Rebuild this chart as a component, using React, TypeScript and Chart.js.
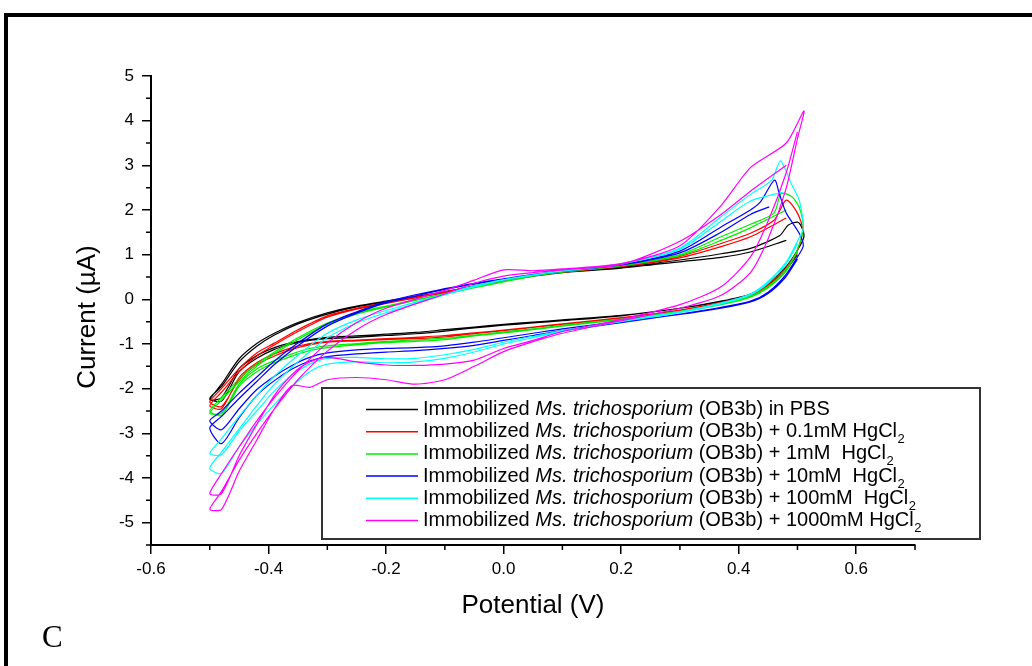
import React, { useEffect, useRef } from "react";
import { Chart, registerables } from "chart.js";

Chart.register(...registerables);

// ---------- data (potential in V, current in µA) ----------
const scanUp = [-0.5, -0.48, -0.45, -0.42, -0.39, -0.35, -0.3, -0.25, -0.2, -0.1, -0.05, 0.0, 0.05, 0.1, 0.2, 0.3, 0.37, 0.42];
const scanDown = [0.5, 0.48, 0.45, 0.42, 0.37, 0.3, 0.2, 0.1, 0.05, 0.0, -0.05, -0.1, -0.15, -0.2, -0.25, -0.3, -0.33, -0.36, -0.39, -0.42, -0.45, -0.48];

const seriesLabels = [
  ["Immobilized ", "Ms. trichosporium", " (OB3b) in PBS", ""],
  ["Immobilized ", "Ms. trichosporium", " (OB3b) + 0.1mM HgCl", "2"],
  ["Immobilized ", "Ms. trichosporium", " (OB3b) + 1mM  HgCl", "2"],
  ["Immobilized ", "Ms. trichosporium", " (OB3b) + 10mM  HgCl", "2"],
  ["Immobilized ", "Ms. trichosporium", " (OB3b) + 100mM  HgCl", "2"],
  ["Immobilized ", "Ms. trichosporium", " (OB3b) + 1000mM HgCl", "2"],
];
const seriesColors = ["#000000", "#ff0000", "#00ee00", "#0000ff", "#00ffff", "#ff00ff"];

// black: PBS
const blackDownA = [1.0, 0.65, 0.32, 0.1, -0.05, -0.2, -0.36, -0.46, -0.51, -0.56, -0.62, -0.68, -0.74, -0.78, -0.82, -0.85, -0.9, -0.97, -1.08, -1.26, -1.55, -2.2];
const blackUpA = [-2.25, -1.9, -1.33, -0.99, -0.76, -0.52, -0.3, -0.15, -0.04, 0.17, 0.3, 0.43, 0.54, 0.62, 0.72, 0.88, 1.02, 1.14];
const blackPeakV = [0.47, 0.484, 0.5, 0.507, 0.511];
const blackPeakI = [1.43, 1.66, 1.73, 1.62, 1.4];
const blackDownB = [1.1, 0.72, 0.36, 0.12, -0.04, -0.2, -0.37, -0.48, -0.53, -0.58, -0.64, -0.71, -0.77, -0.81, -0.85, -0.88, -0.92, -1.0, -1.12, -1.32, -1.62, -2.28];
const blackUpB = [-2.22, -1.95, -1.4, -1.05, -0.8, -0.55, -0.33, -0.17, -0.06, 0.15, 0.28, 0.41, 0.52, 0.6, 0.7, 0.84, 0.94, 1.06];
const blackEnd = [0.481, 1.32];

// red: 0.1 mM
const redDownA = [1.05, 0.65, 0.3, 0.08, -0.08, -0.25, -0.42, -0.56, -0.63, -0.7, -0.77, -0.84, -0.88, -0.9, -0.93, -0.96, -1.02, -1.12, -1.27, -1.46, -1.8, -2.4];
const redUpA = [-2.3, -2.0, -1.55, -1.2, -0.98, -0.68, -0.37, -0.2, -0.07, 0.17, 0.29, 0.42, 0.54, 0.62, 0.74, 0.96, 1.25, 1.48];
const redPeakV = [0.46, 0.481, 0.5, 0.509];
const redPeakI = [1.77, 2.22, 1.93, 1.55];
const redDownB = [1.1, 0.7, 0.33, 0.1, -0.07, -0.24, -0.41, -0.55, -0.62, -0.69, -0.75, -0.81, -0.85, -0.88, -0.91, -0.94, -0.99, -1.08, -1.22, -1.42, -1.75, -2.45];
const redUpB = [-2.38, -2.08, -1.62, -1.27, -1.02, -0.72, -0.4, -0.22, -0.09, 0.15, 0.28, 0.41, 0.53, 0.61, 0.73, 0.93, 1.18, 1.4];
const redEnd = [0.481, 1.82];

// green: 1 mM
const greenDownA = [1.08, 0.62, 0.26, 0.05, -0.12, -0.28, -0.45, -0.6, -0.68, -0.75, -0.82, -0.9, -0.94, -0.97, -1.02, -1.08, -1.15, -1.27, -1.42, -1.62, -1.95, -2.6];
const greenUpA = [-2.5, -2.2, -1.78, -1.45, -1.18, -0.86, -0.53, -0.3, -0.15, 0.13, 0.27, 0.4, 0.53, 0.62, 0.76, 1.0, 1.4, 1.68];
const greenPeakV = [0.46, 0.472, 0.49, 0.503, 0.51];
const greenPeakI = [1.93, 2.37, 2.3, 2.06, 1.62];
const greenDownB = [1.12, 0.66, 0.29, 0.07, -0.1, -0.27, -0.44, -0.58, -0.66, -0.73, -0.8, -0.87, -0.91, -0.94, -0.99, -1.04, -1.1, -1.22, -1.37, -1.56, -1.9, -2.55];
const greenUpB = [-2.55, -2.26, -1.84, -1.5, -1.22, -0.9, -0.56, -0.33, -0.17, 0.12, 0.26, 0.39, 0.52, 0.61, 0.75, 0.98, 1.32, 1.6];
const greenEnd = [0.481, 2.0];

// blue: 10 mM
const blueDownA = [0.9, 0.5, 0.13, -0.06, -0.2, -0.34, -0.5, -0.66, -0.76, -0.86, -0.96, -1.04, -1.08, -1.1, -1.13, -1.2, -1.3, -1.48, -1.72, -2.02, -2.45, -2.92];
const blueUpA = [-2.72, -2.5, -2.1, -1.74, -1.38, -0.98, -0.55, -0.28, -0.05, 0.24, 0.36, 0.46, 0.56, 0.64, 0.78, 1.08, 1.62, 2.0];
const bluePeakV = [0.437, 0.461, 0.469, 0.481, 0.503, 0.51];
const bluePeakI = [2.18, 2.67, 2.37, 1.93, 1.48, 1.2];
const blueDownB = [0.95, 0.55, 0.16, -0.04, -0.18, -0.33, -0.52, -0.7, -0.81, -0.92, -1.03, -1.1, -1.15, -1.18, -1.22, -1.28, -1.38, -1.56, -1.82, -2.15, -2.65, -3.23];
const blueUpB = [-2.88, -2.62, -2.22, -1.84, -1.46, -1.04, -0.6, -0.31, -0.08, 0.22, 0.34, 0.45, 0.55, 0.63, 0.77, 1.04, 1.5, 1.9];
const blueEnd = [0.452, 2.07];

// cyan: 100 mM
const cyanDownA = [1.25, 0.78, 0.36, 0.1, -0.1, -0.3, -0.5, -0.7, -0.83, -0.96, -1.12, -1.24, -1.32, -1.33, -1.3, -1.32, -1.45, -1.7, -2.05, -2.5, -2.95, -3.48];
const cyanUpA = [-3.45, -3.12, -2.62, -2.15, -1.72, -1.25, -0.76, -0.46, -0.25, 0.12, 0.3, 0.44, 0.55, 0.64, 0.8, 1.15, 1.85, 2.35];
const cyanPeakV = [0.456, 0.471, 0.489, 0.503, 0.51];
const cyanPeakI = [2.67, 3.1, 2.6, 2.22, 1.6];
const cyanDownB = [1.3, 0.82, 0.4, 0.12, -0.08, -0.28, -0.48, -0.72, -0.86, -1.0, -1.18, -1.32, -1.4, -1.42, -1.4, -1.45, -1.62, -1.95, -2.35, -2.8, -3.3, -3.9];
const cyanUpB = [-3.78, -3.42, -2.9, -2.38, -1.9, -1.4, -0.86, -0.53, -0.3, 0.1, 0.28, 0.43, 0.54, 0.63, 0.79, 1.12, 1.75, 2.2];
const cyanEnd = [0.475, 2.4];

// magenta: 1000 mM
const magentaDownA = [3.75, 2.8, 1.75, 0.95, 0.28, -0.12, -0.45, -0.72, -0.92, -1.1, -1.36, -1.45, -1.48, -1.47, -1.4, -1.3, -1.4, -1.68, -2.15, -2.8, -3.5, -4.35];
const magentaUpA = [-4.35, -3.9, -3.3, -2.72, -2.2, -1.6, -0.98, -0.52, -0.2, 0.2, 0.43, 0.66, 0.64, 0.68, 0.8, 1.2, 2.1, 2.95];
const magentaPeakV = [0.481, 0.511];
const magentaPeakI = [3.5, 4.22];
const magentaDownB = [3.6, 2.45, 1.35, 0.6, 0.09, -0.2, -0.48, -0.76, -0.95, -1.17, -1.5, -1.8, -1.9, -1.8, -1.75, -1.8, -1.97, -1.93, -2.45, -3.15, -3.85, -4.7];
const magentaUpB = [-4.7, -4.3, -3.6, -3.0, -2.45, -1.8, -1.16, -0.68, -0.34, 0.12, 0.36, 0.52, 0.6, 0.66, 0.78, 1.3, 1.9, 2.42];
const magentaEnd = [0.481, 3.0];

const xTickValues = [-0.6, -0.4, -0.2, 0.0, 0.2, 0.4, 0.6];
const yTickValues = [-5, -4, -3, -2, -1, 0, 1, 2, 3, 4, 5];
const xTitle = "Potential (V)";
const yTitle = "Current (\u00b5A)";

// ---------- helpers ----------
type Pt = { x: number; y: number };
const zip = (xs: number[], ys: number[]): Pt[] => ys.map((y, i) => ({ x: xs[i], y }));

function cvPath(
  downA: number[], upA: number[], peakV: number[], peakI: number[],
  downB: number[], upB: number[], end: number[]
): Pt[] {
  return [
    ...zip(scanDown, downA),
    ...zip(scanUp, upA),
    ...zip(peakV, peakI),
    ...zip(scanDown, downB),
    ...zip(scanUp, upB),
    { x: end[0], y: end[1] },
  ];
}

const seriesPaths: Pt[][] = [
  cvPath(blackDownA, blackUpA, blackPeakV, blackPeakI, blackDownB, blackUpB, blackEnd),
  cvPath(redDownA, redUpA, redPeakV, redPeakI, redDownB, redUpB, redEnd),
  cvPath(greenDownA, greenUpA, greenPeakV, greenPeakI, greenDownB, greenUpB, greenEnd),
  cvPath(blueDownA, blueUpA, bluePeakV, bluePeakI, blueDownB, blueUpB, blueEnd),
  cvPath(cyanDownA, cyanUpA, cyanPeakV, cyanPeakI, cyanDownB, cyanUpB, cyanEnd),
  cvPath(magentaDownA, magentaUpA, magentaPeakV, magentaPeakI, magentaDownB, magentaUpB, magentaEnd),
];

const SANS = '"Liberation Sans", Arial, Helvetica, sans-serif';
const near = (v: number, list: number[]) => list.some((t) => Math.abs(t - v) < 1e-6);

// minor ticks, y title and legend drawn on the canvas
const decorPlugin = {
  id: "decor",
  afterDraw(chart: any) {
    const { ctx, chartArea } = chart;
    const xs = chart.scales.x;
    const ys = chart.scales.y;
    ctx.save();
    // minor ticks
    ctx.strokeStyle = "#000";
    ctx.lineWidth = 1.5;
    ctx.beginPath();
    xs.ticks.forEach((t: any) => {
      if (!near(t.value, xTickValues)) {
        const px = xs.getPixelForValue(t.value);
        ctx.moveTo(px, chartArea.bottom);
        ctx.lineTo(px, chartArea.bottom + 5);
      }
    });
    ys.ticks.forEach((t: any) => {
      if (!near(t.value, yTickValues)) {
        const py = ys.getPixelForValue(t.value);
        ctx.moveTo(chartArea.left, py);
        ctx.lineTo(chartArea.left - 5, py);
      }
    });
    ctx.stroke();

    // y axis title
    ctx.save();
    ctx.translate(88, 317);
    ctx.rotate(-Math.PI / 2);
    ctx.fillStyle = "#000";
    ctx.font = `26px ${SANS}`;
    ctx.textAlign = "center";
    ctx.textBaseline = "middle";
    ctx.fillText(yTitle, 0, 0);
    ctx.restore();

    // legend box
    ctx.fillStyle = "#fff";
    ctx.fillRect(322, 388, 658, 151);
    ctx.strokeStyle = "#333";
    ctx.lineWidth = 2;
    ctx.strokeRect(322, 388, 658, 151);

    seriesLabels.forEach((parts, i) => {
      const cy = 409.5 + i * 22.2;
      ctx.strokeStyle = seriesColors[i];
      ctx.lineWidth = 1.5;
      ctx.beginPath();
      ctx.moveTo(366, cy);
      ctx.lineTo(418, cy);
      ctx.stroke();

      ctx.fillStyle = "#000";
      ctx.textBaseline = "middle";
      ctx.textAlign = "left";
      let x = 423;
      ctx.font = `20px ${SANS}`;
      ctx.fillText(parts[0], x, cy);
      x += ctx.measureText(parts[0]).width;
      ctx.font = `italic 20px ${SANS}`;
      ctx.fillText(parts[1], x, cy);
      x += ctx.measureText(parts[1]).width;
      ctx.font = `20px ${SANS}`;
      ctx.fillText(parts[2], x, cy);
      x += ctx.measureText(parts[2]).width;
      if (parts[3]) {
        ctx.font = `13px ${SANS}`;
        ctx.fillText(parts[3], x + 0.5, cy + 8);
      }
    });
    ctx.restore();
  },
};

export default function App() {
  const canvasRef = useRef<HTMLCanvasElement>(null);

  useEffect(() => {
    document.body.style.margin = "0";
    const canvas = canvasRef.current;
    if (!canvas) return;
    const chart = new Chart(canvas, {
      type: "scatter",
      data: {
        datasets: seriesPaths.map((pts, i) => ({
          label: seriesLabels[i].join(""),
          data: pts,
          showLine: true,
          borderColor: seriesColors[i],
          backgroundColor: seriesColors[i],
          borderWidth: 1.2,
          pointRadius: 0,
          tension: 0.25,
          fill: false,
          order: 10 - i,
        })),
      },
      options: {
        responsive: false,
        animation: false,
        devicePixelRatio: 1,
        layout: { padding: { left: 0, right: 1032 - 915, top: 76, bottom: 0 } },
        plugins: {
          legend: { display: false },
          tooltip: { enabled: false },
        },
        scales: {
          x: {
            type: "linear",
            min: -0.6,
            max: 0.7,
            afterFit: (s: any) => {
              s.height = 666 - 545;
            },
            ticks: {
              stepSize: 0.1,
              autoSkip: false,
              maxRotation: 0,
              padding: 5,
              color: "#000",
              font: { family: SANS, size: 17 },
              callback: (v: any) => (near(Number(v), xTickValues) ? Number(v).toFixed(1) : ""),
            },
            grid: {
              drawOnChartArea: false,
              drawTicks: true,
              tickLength: 9,
              lineWidth: 1.5,
              color: (c: any) => (c.tick && near(c.tick.value, xTickValues) ? "#000" : "rgba(0,0,0,0)"),
            },
            border: { display: true, color: "#000", width: 2 },
            title: {
              display: true,
              text: xTitle,
              color: "#000",
              font: { family: SANS, size: 26 },
              padding: { top: 0, bottom: 45 },
            },
          },
          y: {
            type: "linear",
            min: -5.5,
            max: 5,
            afterFit: (s: any) => {
              s.width = 151;
            },
            ticks: {
              stepSize: 0.5,
              autoSkip: false,
              padding: 8,
              color: "#000",
              font: { family: SANS, size: 17 },
              callback: (v: any) => (near(Number(v), yTickValues) ? String(Math.round(Number(v))) : ""),
            },
            grid: {
              drawOnChartArea: false,
              drawTicks: true,
              tickLength: 9,
              lineWidth: 1.5,
              color: (c: any) => (c.tick && near(c.tick.value, yTickValues) ? "#000" : "rgba(0,0,0,0)"),
            },
            border: { display: true, color: "#000", width: 2 },
            title: { display: false, text: yTitle },
          },
        },
      },
      plugins: [decorPlugin],
    } as any);
    return () => chart.destroy();
  }, []);

  return (
    <div style={{ position: "relative", width: 1032, height: 666, background: "#fff", overflow: "hidden" }}>
      <div
        style={{
          position: "absolute",
          left: 4,
          top: 13,
          width: 1100,
          height: 700,
          borderTop: "4px solid #000",
          borderLeft: "4px solid #000",
          boxSizing: "border-box",
        }}
      />
      <canvas
        ref={canvasRef}
        width={1032}
        height={666}
        style={{ position: "absolute", left: 0, top: 0, width: 1032, height: 666 }}
      />
      <div
        style={{
          position: "absolute",
          left: 42,
          top: 621,
          font: '31px "Liberation Serif", "Times New Roman", serif',
          lineHeight: "31px",
          color: "#000",
        }}
      >
        C
      </div>
    </div>
  );
}
